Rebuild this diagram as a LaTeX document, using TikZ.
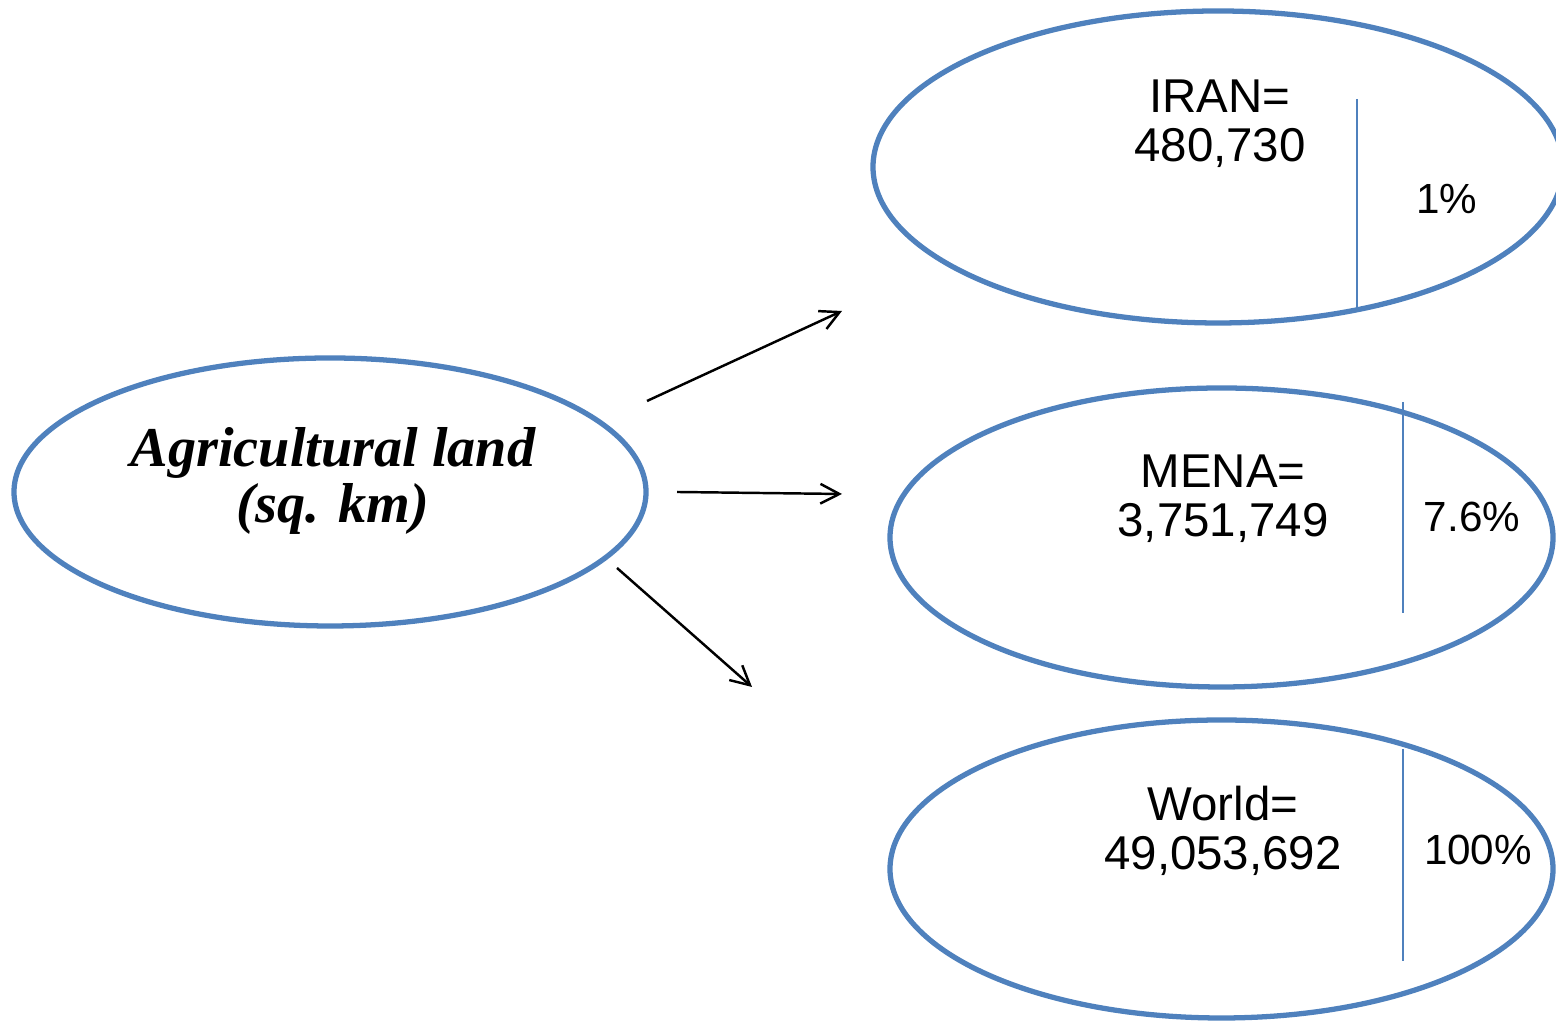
\documentclass[tikz,border=0pt]{standalone}
\usepackage{fontspec}
\setmainfont{Liberation Sans}
\newfontfamily\titlefont{Liberation Serif}
\usetikzlibrary{arrows.meta, shapes.geometric}
\definecolor{ellblue}{RGB}{79,129,189}

\begin{document}
\begin{tikzpicture}[
  region/.style = {draw=ellblue, ellipse, line width = 1.5pt, inner sep = 0pt},
  divider/.style = {draw=ellblue, line width = 0.5pt},
  figure/.style = {anchor = base, align = center, font = \fontsize{13.5}{14.2}\selectfont},
  share/.style = {anchor = base, font = \fontsize{12}{14}\selectfont},
  pointer/.style = {-{Straight Barb[length=5.4pt, width=5.6pt]}, line width = 0.7pt}
]
\useasboundingbox (0,0) rectangle (15.56,10.23);
% ellipses
\node [region, minimum width = 6.32cm, minimum height = 2.68cm] (agri) at (3.30,5.31) {};
\node [region, minimum width = 6.90cm, minimum height = 3.12cm] (iran) at (12.18,8.56) {};
\node [region, minimum width = 6.63cm, minimum height = 2.99cm] (mena) at (12.215,4.855) {};
\node [region, minimum width = 6.63cm, minimum height = 2.98cm] (world) at (12.215,1.54) {};
% dividers
\coordinate (iranTop) at (13.57,9.24);
\coordinate (iranBot) at (13.57,7.13);
\coordinate (menaTop) at (14.03,6.21);
\coordinate (menaBot) at (14.03,4.10);
\coordinate (worldTop) at (14.03,2.74);
\coordinate (worldBot) at (14.03,0.62);
\draw [divider] (iranTop) -- (iranBot);
\draw [divider] (menaTop) -- (menaBot);
\draw [divider] (worldTop) -- (worldBot);
% labels
\node [anchor = base, align = center, font = \titlefont\bfseries\itshape\fontsize{16}{16}\selectfont] (agriText) at (3.33,5.00) {Agricultural land\\(sq. km)};
\node [figure] (iranText) at (12.20,8.61) {IRAN=\\480,730};
\node [share] (iranPct) at (14.47,8.09) {1\%};
\node [figure] (menaText) at (12.23,4.86) {MENA=\\3,751,749};
\node [share] (menaPct) at (14.72,4.91) {7.6\%};
\node [figure] (worldText) at (12.23,1.53) {World=\\49,053,692};
\node [share] (worldPct) at (14.78,1.58) {100\%};
% arrows
\coordinate (a1s) at (6.47,6.22);
\coordinate (a1e) at (8.42,7.12);
\coordinate (a2s) at (6.77,5.31);
\coordinate (a2e) at (8.42,5.29);
\coordinate (a3s) at (6.17,4.55);
\coordinate (a3e) at (7.52,3.36);
\draw [pointer] (a1s) -- (a1e);
\draw [pointer] (a2s) -- (a2e);
\draw [pointer] (a3s) -- (a3e);
\end{tikzpicture}
\end{document}
